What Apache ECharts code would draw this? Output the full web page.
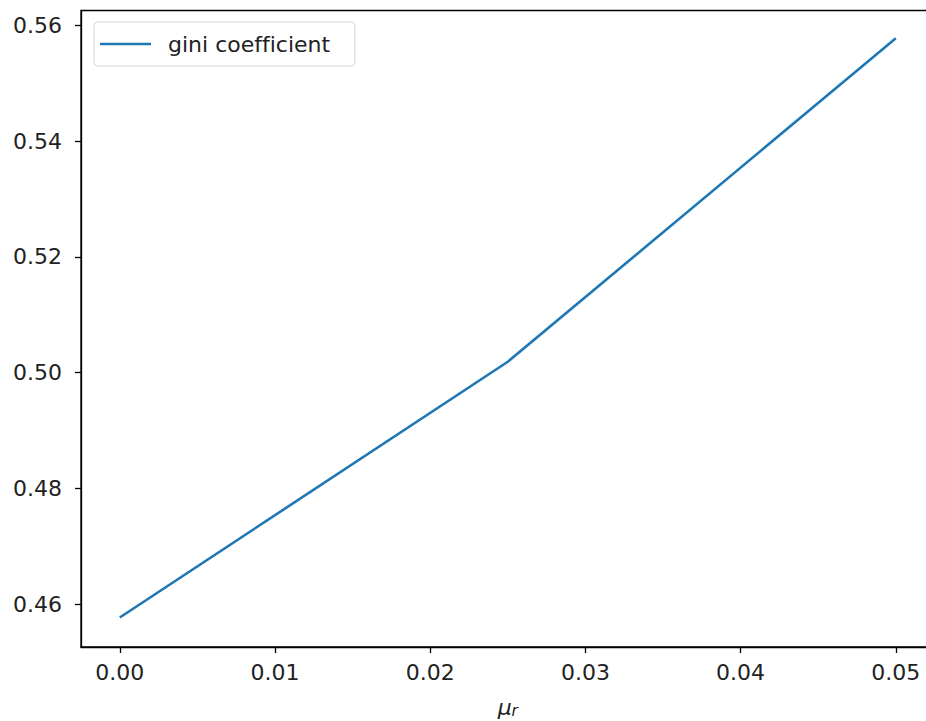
<!DOCTYPE html>
<html>
<head>
<meta charset="utf-8">
<script src="https://cdn.jsdelivr.net/npm/echarts@6/dist/echarts.min.js"></script>
<style>html,body{margin:0;padding:0;background:#fff;overflow:hidden;}#c{width:926px;height:721px;}#c text{font-variant-ligatures:none;font-feature-settings:"liga" 0,"clig" 0;}</style>
</head>
<body>
<div id="c"></div>
<script>
const xValues = [0.0, 0.025, 0.05];
const giniValues = [0.4577, 0.5019, 0.5578];
const xTicks = [0.00, 0.01, 0.02, 0.03, 0.04, 0.05];
const yTicks = [0.46, 0.48, 0.50, 0.52, 0.54, 0.56];
const seriesName = 'gini coefficient';

const font = 'DejaVu Sans';
const fs = 22;
const chart = echarts.init(document.getElementById('c'), null, {renderer: 'svg'});
chart.setOption({
  animation: false,
  backgroundColor: '#fff',
  textStyle: {fontFamily: font},
  grid: {left: 81, top: 10.5, bottom: 74, right: -8.6, show: true, borderColor: '#000', borderWidth: 1.3, containLabel: false, outerBoundsMode: 'none'},
  legend: {
    left: 94, top: 22,
    data: [{name: seriesName, icon: 'rect'}],
    itemWidth: 51, itemHeight: 2.6,
    padding: [11, 25, 11, 6],
    backgroundColor: '#fff',
    borderColor: '#d5d5d5', borderWidth: 1, borderRadius: 4,
    textStyle: {fontFamily: font, fontSize: fs, color: '#222', padding: [0, 0, 0, 12]}
  },
  xAxis: {
    type: 'value', min: -0.0025, max: 0.0525,
    name: '{m|μ}{s|r}', nameLocation: 'middle', nameGap: 48,
    nameTextStyle: {rich: {
      m: {fontFamily: font, fontStyle: 'italic', fontSize: fs, lineHeight: 24, color: '#222'},
      s: {fontFamily: font, fontStyle: 'italic', fontSize: 15.5, lineHeight: 12, color: '#222', verticalAlign: 'bottom'}
    }},
    splitLine: {show: false},
    axisLine: {show: true, onZero: false, lineStyle: {color: '#000', width: 1.3}},
    axisTick: {show: true, length: 6, lineStyle: {color: '#000', width: 1.3}, customValues: xTicks},
    axisLabel: {fontFamily: font, fontSize: fs, color: '#222', margin: 14, customValues: xTicks, formatter: v => v.toFixed(2)}
  },
  yAxis: {
    type: 'value', min: 0.4526, max: 0.5626,
    splitLine: {show: false},
    axisLine: {show: true, onZero: false, lineStyle: {color: '#000', width: 1.3}},
    axisTick: {show: true, length: 6, lineStyle: {color: '#000', width: 1.3}, customValues: yTicks},
    axisLabel: {fontFamily: font, fontSize: fs, color: '#222', margin: 19, customValues: yTicks, formatter: v => v.toFixed(2)}
  },
  series: [{
    name: seriesName,
    type: 'line',
    data: xValues.map((x, i) => [x, giniValues[i]]),
    symbol: 'none',
    lineStyle: {color: '#1f77b4', width: 2.6},
    itemStyle: {color: '#1f77b4'}
  }]
});
</script>
</body>
</html>
